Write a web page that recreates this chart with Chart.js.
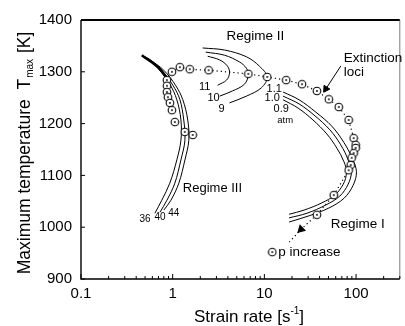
<!DOCTYPE html>
<html>
<head>
<meta charset="utf-8">
<script src="https://cdn.jsdelivr.net/npm/chart.js@4.4.0/dist/chart.umd.min.js"></script>
<style>
  html, body { margin: 0; padding: 0; background: #fff; }
  #wrap { width: 405px; height: 326px; }
</style>
</head>
<body>
<div id="wrap"><canvas id="chart"></canvas></div>
<script>
// strain rate [1/s], maximum temperature [K]
var xMajor = [0.1, 1, 10, 100];
var xLabels = ['0.1', '1', '10', '100'];

// Regime III, pressures 36 / 40 / 44 atm
var r3p36 = [[0.50,1329],[0.69,1307],[0.93,1276],[1.11,1246],[1.23,1207],[1.23,1168],[1.11,1130],[0.93,1085],[0.76,1052],[0.64,1027]];
var r3p40 = [[0.525,1327],[0.745,1305],[1.005,1274],[1.20,1246],[1.32,1207],[1.36,1168],[1.23,1130],[1.056,1085],[0.865,1052],[0.727,1029]];
var r3p44 = [[0.55,1325],[0.80,1303],[1.083,1273],[1.29,1246],[1.46,1207],[1.50,1168],[1.36,1130],[1.167,1085],[0.956,1052],[0.80,1033]];
var r3top = [[0.46,1332],[0.69,1309],[0.93,1280]];

// Regime II, pressures 9 / 10 / 11 atm
var r2p9 = [[2.125,1346],[3.68,1342],[6.37,1329],[8.81,1311],[10.75,1290],[9.26,1269],[6.37,1253],[4.17,1240]];
var r2p10 = [[2.29,1338],[3.68,1332],[5.35,1319],[6.37,1307],[6.69,1294],[6.06,1276],[4.49,1263],[3.25,1253]];
var r2p11 = [[2.41,1330],[3.25,1323],[3.96,1311],[4.17,1298],[3.87,1284],[3.09,1274]];

// Regime I, pressures 1.1 / 1.0 / 0.9 atm
var r1p11 = [[16.0,1261],[23.9,1246],[36.5,1222],[54.4,1195],[73.4,1164],[90.5,1134],[101,1107],[93,1081],[74,1056],[50.5,1037],[30.7,1022],[18.6,1010]];
var r1p10 = [[16.0,1253],[23.9,1238],[35.6,1215],[51.8,1188],[68.1,1159],[82,1130],[89,1107],[82,1083],[66.4,1060],[46.9,1043],[29.2,1027],[18.6,1018]];
var r1p09 = [[16.0,1246],[23.3,1230],[33.9,1207],[48.0,1180],[61.6,1153],[74,1126],[78.5,1105],[72.5,1083],[58.6,1062],[42.4,1047],[27.1,1033],[18.6,1025]];

// extinction loci
var extLoci = [[0.98,1300],[1.197,1309],[1.536,1305],[2.467,1303],[6.69,1296],[10.75,1290],[17.28,1284],[25.74,1276],[37.4,1263],[50.5,1247],[64.8,1232],[83.1,1207],[94.2,1172],[99,1159],[99,1153],[94.2,1143],[89.6,1134],[87.4,1120],[83.1,1110],[57.2,1062],[37.4,1024]];
var extLow = [[0.865,1284],[0.865,1273],[0.865,1261],[0.887,1251],[0.933,1240],[0.98,1226],[1.056,1203],[1.356,1184],[1.655,1178]];
var pIncrease = [[37.4,1024],[25.1,996],[18.2,969]];
var extArrow = [[68.1,1311],[46.85,1267]];

var notes = [
  {text: 'Regime II', x: 7.97, y: 1369, size: 13.5, align: 'center'},
  {text: 'Extinction', x: 73.4, y: 1327, size: 13.5, align: 'left'},
  {text: 'loci', x: 73.4, y: 1300, size: 13.5, align: 'left'},
  {text: '1.1', x: 12.8, y: 1267, size: 11, align: 'center'},
  {text: '1.0', x: 12.18, y: 1249, size: 11, align: 'center'},
  {text: '0.9', x: 15.25, y: 1228, size: 11, align: 'center'},
  {text: 'atm', x: 16.84, y: 1207, size: 9.5, align: 'center'},
  {text: '11', x: 2.233, y: 1271, size: 11, align: 'center'},
  {text: '10', x: 2.795, y: 1249, size: 11, align: 'center'},
  {text: '9', x: 3.41, y: 1228, size: 11, align: 'center'},
  {text: 'Regime III', x: 1.29, y: 1074, size: 13, align: 'left'},
  {text: '36', x: 0.50, y: 1016, size: 10, align: 'center'},
  {text: '40', x: 0.727, y: 1020, size: 10, align: 'center'},
  {text: '44', x: 1.03, y: 1027, size: 10, align: 'center'},
  {text: 'Regime I', x: 53.05, y: 1006, size: 13.5, align: 'left'},
  {text: 'p increase', x: 12.2, y: 952, size: 13.5, align: 'left', ring: true}
];

var FONT = '"Liberation Sans", Arial, Helvetica, sans-serif';
Chart.defaults.font.family = FONT;
Chart.defaults.color = '#000';

function ringMarker() {
  var c = document.createElement('canvas');
  c.width = 10; c.height = 10;
  var g = c.getContext('2d');
  g.beginPath(); g.arc(5, 5, 3.8, 0, 2 * Math.PI);
  g.fillStyle = '#fff'; g.fill();
  g.lineWidth = 1.1; g.strokeStyle = '#000'; g.stroke();
  g.beginPath(); g.arc(5, 5, 0.9, 0, 2 * Math.PI);
  g.fillStyle = '#000'; g.fill();
  return c;
}
var ring = ringMarker();

function pts(arr) {
  return arr.map(function(p) { return {x: p[0], y: p[1]}; });
}

function curve(arr, width) {
  return {
    data: pts(arr), showLine: true, borderColor: '#000', borderWidth: width,
    pointRadius: 0, tension: 0.35, fill: false
  };
}

var datasets = [
  {data: pts(extLoci), showLine: true, borderColor: '#000', borderWidth: 1.2, borderDash: [1.2, 3],
   pointStyle: ring, pointRadius: 4, tension: 0},
  {data: pts(extLow), showLine: false, pointStyle: ring, pointRadius: 4},
  {data: pts(pIncrease), showLine: true, borderColor: '#000', borderWidth: 1.2, borderDash: [1.2, 3],
   pointStyle: 'triangle', pointRadius: [0, 4, 0], pointRotation: 226,
   pointBackgroundColor: '#000', pointBorderColor: '#000', tension: 0},
  {data: pts(extArrow), showLine: true, borderColor: '#000', borderWidth: 1,
   pointStyle: 'triangle', pointRadius: [0, 4], pointRotation: 213,
   pointBackgroundColor: '#000', pointBorderColor: '#000', tension: 0},
  curve(r3top, 2.6),
  curve(r3p36, 1), curve(r3p40, 1), curve(r3p44, 1),
  curve(r2p9, 1), curve(r2p10, 1), curve(r2p11, 1),
  curve(r1p11, 1), curve(r1p10, 1), curve(r1p09, 1)
];

var decor = {
  id: 'decor',
  afterDatasetsDraw: function(chart) {
    var ctx = chart.ctx, a = chart.chartArea;
    var xs = chart.scales.x, ys = chart.scales.y;
    ctx.save();
    ctx.strokeStyle = '#000';
    ctx.fillStyle = '#000';

    // frame
    ctx.lineWidth = 1.4;
    ctx.beginPath();
    ctx.moveTo(a.left, a.top); ctx.lineTo(a.left, a.bottom); ctx.lineTo(a.right, a.bottom);
    ctx.stroke();
    ctx.lineWidth = 2;
    ctx.beginPath(); ctx.moveTo(a.left, a.top); ctx.lineTo(a.right, a.top); ctx.stroke();
    ctx.lineWidth = 0.7;
    ctx.strokeStyle = '#444';
    ctx.beginPath(); ctx.moveTo(a.right, a.top); ctx.lineTo(a.right, a.bottom); ctx.stroke();
    ctx.strokeStyle = '#000';

    // tick marks, pointing inward
    ctx.lineWidth = 1;
    ctx.beginPath();
    ys.ticks.forEach(function(t) {
      var py = ys.getPixelForValue(t.value);
      ctx.moveTo(a.left, py); ctx.lineTo(a.left + 4, py);
    });
    for (var d = 0.1; d < 300; d *= 10) {
      for (var k = 1; k < 10; k++) {
        var v = d * k;
        if (v > 300) break;
        var px = xs.getPixelForValue(v);
        ctx.moveTo(px, a.bottom); ctx.lineTo(px, a.bottom - (k === 1 ? 5 : 3));
      }
    }
    ctx.stroke();

    // annotations
    ctx.textBaseline = 'middle';
    notes.forEach(function(n) {
      var px = xs.getPixelForValue(n.x), py = ys.getPixelForValue(n.y);
      ctx.font = n.size + 'px ' + FONT;
      ctx.textAlign = n.align;
      if (n.ring) {
        ctx.drawImage(ring, px - 5, py - 5);
        px += 6;
      }
      ctx.fillText(n.text, px, py);
    });

    // y title with subscript
    ctx.textAlign = 'left';
    ctx.textBaseline = 'alphabetic';
    ctx.translate(30, 153);
    ctx.rotate(-Math.PI / 2);
    var s1 = 'Maximum temperature  T', s2 = 'max', s3 = ' [K]';
    ctx.font = '17.5px ' + FONT; var w1 = ctx.measureText(s1).width, w3 = ctx.measureText(s3).width;
    ctx.font = '10px ' + FONT; var w2 = ctx.measureText(s2).width;
    var x0 = -(w1 + w2 + w3 + 2) / 2;
    ctx.font = '17.5px ' + FONT; ctx.fillText(s1, x0, 0);
    ctx.font = '10px ' + FONT; ctx.fillText(s2, x0 + w1 + 1, 3);
    ctx.font = '17.5px ' + FONT; ctx.fillText(s3, x0 + w1 + w2 + 2, 0);
    ctx.setTransform(1, 0, 0, 1, 0, 0);

    // x title with superscript
    var t1 = 'Strain rate [s', t2 = '-1', t3 = ']';
    ctx.font = '17px ' + FONT; var u1 = ctx.measureText(t1).width, u3 = ctx.measureText(t3).width;
    ctx.font = '10px ' + FONT; var u2 = ctx.measureText(t2).width;
    var cx = 249 - (u1 + u2 + u3) / 2;
    ctx.font = '17px ' + FONT; ctx.fillText(t1, cx, 322);
    ctx.font = '10px ' + FONT; ctx.fillText(t2, cx + u1, 314);
    ctx.font = '17px ' + FONT; ctx.fillText(t3, cx + u1 + u2, 322);
    ctx.restore();
  }
};

var currentChart = new Chart('chart', {
  type: 'scatter',
  data: {datasets: datasets},
  options: {
    responsive: true,
    maintainAspectRatio: false,
    animation: false,
    layout: {padding: {top: 20, right: 4, bottom: 0, left: 0}},
    plugins: {legend: {display: false}, tooltip: {enabled: false}},
    scales: {
      x: {
        type: 'logarithmic', min: 0.1, max: 300,
        grid: {display: false, drawTicks: false},
        border: {display: false},
        afterBuildTicks: function(axis) {
          axis.ticks = xMajor.map(function(v) { return {value: v}; });
        },
        afterFit: function(axis) { axis.height = 47; },
        ticks: {
          autoSkip: false, maxRotation: 0, padding: 6,
          font: {size: 15},
          callback: function(v, i) { return xLabels[i]; }
        }
      },
      y: {
        type: 'linear', min: 900, max: 1400,
        grid: {display: false, drawTicks: false},
        border: {display: false},
        afterFit: function(axis) { axis.width = 81; },
        ticks: {
          stepSize: 100, padding: 9, font: {size: 15},
          callback: function(v) { return String(v); }
        }
      }
    }
  },
  plugins: [decor]
});
</script>
</body>
</html>
